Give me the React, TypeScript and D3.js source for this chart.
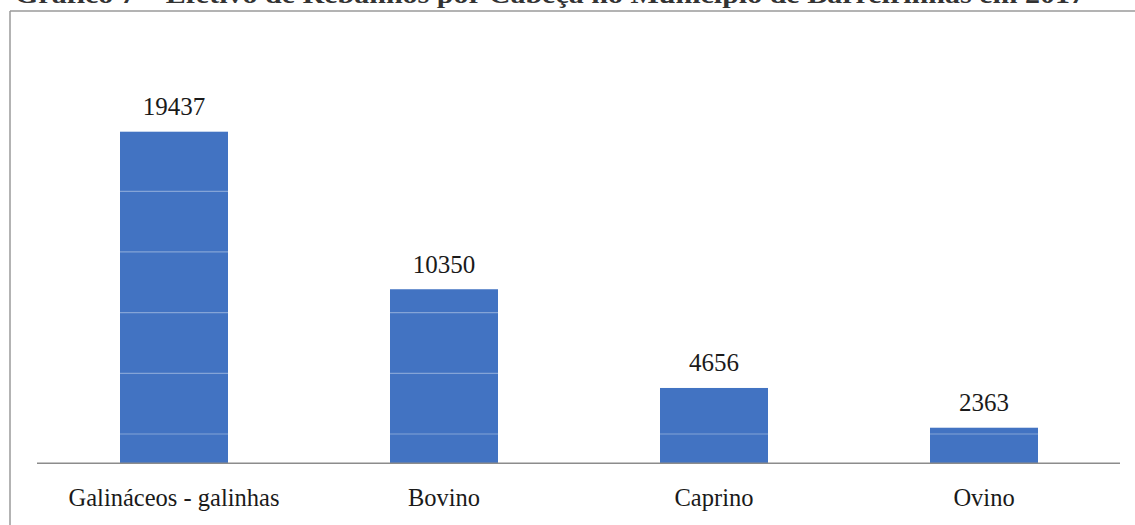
import { scaleBand, scaleLinear } from 'd3'

// data
const categories = ['Galináceos - galinhas', 'Bovino', 'Caprino', 'Ovino']
const values = [19437, 10350, 4656, 2363]
const gridValues = [2000, 5500, 9000, 12500, 16000]
const title = 'Gráfico 7 – Efetivo de Rebanhos por Cabeça no Município de Barreirinhas em 2017'

const W = 1135
const H = 525
const plot = { left: 39, right: 1119, top: 131.7, bottom: 463.3 }
const font = '"Liberation Serif", "Times New Roman", serif'
const barColor = '#4273c2'

export default function App() {
  const xScale = scaleBand()
    .domain(categories)
    .range([plot.left, plot.right])
    .paddingInner(0.6)
    .paddingOuter(0.3)

  // the scanned chart's baseline sits a little above zero
  const yScale = scaleLinear()
    .domain([311, 19437])
    .range([plot.bottom, plot.top])

  return (
    <svg width={W} height={H} viewBox={`0 0 ${W} ${H}`}
      style={{ position: 'absolute', left: 0, top: 0, background: '#fff' }}>
      {/* title, cut by the top edge as in the scan */}
      <text x={15} y={3} fontFamily={font} fontWeight="bold" fontSize={26}
        textLength={1070} lengthAdjust="spacingAndGlyphs" fill="#333">{title}</text>
      {/* frame */}
      <line x1={10} x2={W} y1={11} y2={11} stroke="#9a9a9a" strokeWidth={1.5} />
      <line x1={10} x2={10} y1={11} y2={H} stroke="#9a9a9a" strokeWidth={1.5} />

      <g>
        {categories.map((c, i) =>
          <rect key={c} x={xScale(c)} width={xScale.bandwidth()}
            y={yScale(values[i])} height={plot.bottom - yScale(values[i])}
            fill={barColor} />
        )}
      </g>
      {/* gridlines only show where they cross the bars */}
      <g>
        {gridValues.map(v =>
          <line key={v} x1={plot.left} x2={plot.right} y1={yScale(v)} y2={yScale(v)}
            stroke="#ffffff" strokeOpacity={0.35} strokeWidth={1.2} />
        )}
      </g>
      <line x1={plot.left - 2} x2={plot.right + 1} y1={plot.bottom} y2={plot.bottom}
        stroke="#8c8c8c" strokeWidth={1.5} />

      <g fontFamily={font} fill="#1a1a1a" textAnchor="middle">
        {categories.map((c, i) =>
          <text key={c} x={xScale(c) + xScale.bandwidth() / 2} y={yScale(values[i]) - 16.5}
            fontSize={25}>{values[i]}</text>
        )}
        {categories.map(c =>
          <text key={c} x={xScale(c) + xScale.bandwidth() / 2} y={506}
            fontSize={24.5}>{c}</text>
        )}
      </g>
    </svg>
  )
}
